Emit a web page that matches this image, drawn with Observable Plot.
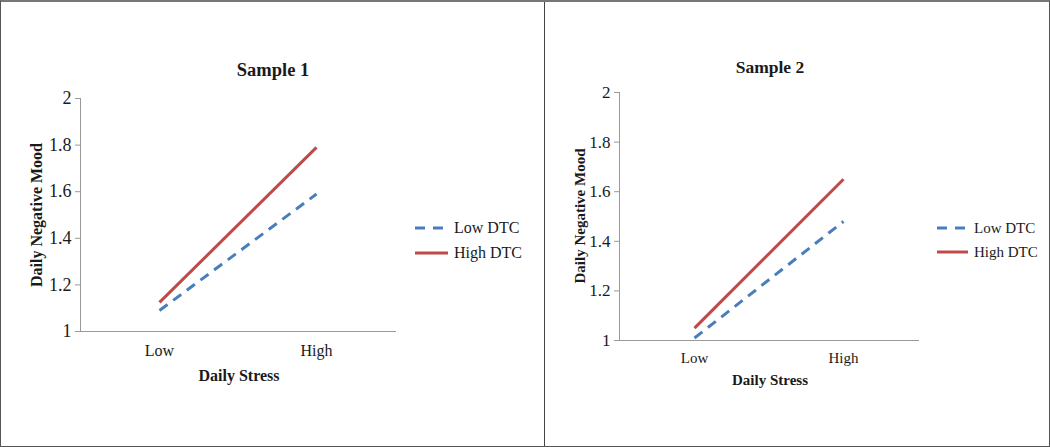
<!DOCTYPE html>
<html>
<head>
<meta charset="utf-8">
<script src="https://cdn.jsdelivr.net/npm/d3@7"></script>
<script src="https://cdn.jsdelivr.net/npm/@observablehq/plot@0.6"></script>
<style>
  html, body { margin: 0; padding: 0; background: #fff; }
  #root { position: relative; width: 1050px; height: 447px; overflow: hidden; font-family: "Liberation Serif", "Times New Roman", serif; color: #1a1a1a; }
  .abs { position: absolute; white-space: nowrap; }
  .title { font-weight: bold; }
  .axtitle { font-weight: bold; }
  .border { position: absolute; left: 0; top: 0; width: 1050px; height: 447px; box-sizing: border-box; border: 1px solid #555; border-top: 2px solid #777; pointer-events: none; }
  .divider { position: absolute; left: 544px; top: 0; width: 1px; height: 447px; background: #444; }
</style>
</head>
<body>
<div id="root"></div>
<script>
// ---- data ----
const categories = ["Low", "High"];
const seriesNames = ["Low DTC", "High DTC"];
const seriesColors = ["#4a7ebb", "#be4b48"];
const seriesDash = ["10,7", null];
const sample1LowDTC = [1.09, 1.59];
const sample1HighDTC = [1.125, 1.79];
const sample2LowDTC = [1.01, 1.48];
const sample2HighDTC = [1.05, 1.65];
const yTicks = [1, 1.2, 1.4, 1.6, 1.8, 2];
const yTickLabels = ["1", "1.2", "1.4", "1.6", "1.8", "2"];
const panelTitles = ["Sample 1", "Sample 2"];
const xTitle = "Daily Stress";
const yTitle = "Daily Negative Mood";

const root = document.getElementById("root");

function addText(txt, cls, css) {
  const d = document.createElement("div");
  d.className = "abs " + (cls || "");
  d.textContent = txt;
  Object.assign(d.style, css);
  root.appendChild(d);
  return d;
}

function panel(cfg) {
  const rows = [];
  seriesNames.forEach((s, si) => {
    cfg.series[si].forEach((v, ci) => rows.push({series: s, cat: categories[ci], value: v}));
  });
  const marks = [
    Plot.axisY({ticks: yTicks, tickFormat: (d) => yTickLabels[yTicks.indexOf(d)] ?? String(d), tickSize: 5, tickPadding: 4, stroke: "#999", fontSize: cfg.yTickFont, label: null}),
    Plot.axisX({tickSize: 0, tickPadding: cfg.xPad, fontSize: cfg.tickFont, label: null}),
    Plot.frame({anchor: "left", stroke: "#999"}),
    Plot.frame({anchor: "bottom", stroke: "#999"})
  ];
  seriesNames.forEach((s, si) => {
    marks.push(Plot.lineY(rows.filter(r => r.series === s), {
      x: "cat", y: "value", stroke: seriesColors[si], strokeWidth: 3,
      strokeDasharray: seriesDash[si] || undefined, strokeLinecap: "butt"
    }));
  });
  const svg = Plot.plot({
    width: cfg.width, height: 447,
    marginLeft: cfg.ml, marginRight: cfg.mr, marginTop: cfg.mt, marginBottom: cfg.mb,
    x: {type: "point", domain: categories, padding: 0.5},
    y: {domain: [1, 2]},
    style: {fontFamily: '"Liberation Serif", "Times New Roman", serif', color: "#1a1a1a", background: "transparent", overflow: "visible"},
    marks
  });
  svg.style.position = "absolute";
  svg.style.left = cfg.left + "px";
  svg.style.top = "0px";
  root.appendChild(svg);

  addText(cfg.title, "title", {left: (cfg.left + cfg.titleX) + "px", top: cfg.titleY + "px", fontSize: cfg.titleFont + "px", transform: "translate(-50%,-50%)"});
  addText(xTitle, "axtitle", {left: (cfg.left + cfg.xTitleX) + "px", top: cfg.xTitleY + "px", fontSize: cfg.axFont + "px", transform: "translate(-50%,-50%)"});
  addText(yTitle, "axtitle", {left: (cfg.left + cfg.yTitleX) + "px", top: cfg.yTitleY + "px", fontSize: cfg.axFont + "px", transform: "translate(-50%,-50%) rotate(-90deg)"});
  seriesNames.forEach((s, si) => {
    const y = cfg.legY[si];
    const ns = "http://www.w3.org/2000/svg";
    const sw = document.createElementNS(ns, "svg");
    sw.setAttribute("width", cfg.legW);
    sw.setAttribute("height", 10);
    sw.style.position = "absolute";
    sw.style.left = (cfg.left + cfg.legX) + "px";
    sw.style.top = (y - 5) + "px";
    const ln = document.createElementNS(ns, "line");
    ln.setAttribute("x1", 0); ln.setAttribute("x2", cfg.legW);
    ln.setAttribute("y1", 5); ln.setAttribute("y2", 5);
    ln.setAttribute("stroke", seriesColors[si]);
    ln.setAttribute("stroke-width", 3);
    if (seriesDash[si]) ln.setAttribute("stroke-dasharray", "10,8");
    sw.appendChild(ln);
    root.appendChild(sw);
    addText(s, "", {left: (cfg.left + cfg.legX + cfg.legW + 6) + "px", top: y + "px", fontSize: cfg.legFont + "px", transform: "translateY(-50%)"});
  });
}

panel({
  left: 0, width: 544, ml: 80, mr: 149, mt: 98, mb: 116,
  series: [sample1LowDTC, sample1HighDTC], title: panelTitles[0],
  tickFont: 16, yTickFont: 18, xPad: 13, titleFont: 18.5, axFont: 16, legFont: 16,
  titleX: 273, titleY: 70, xTitleX: 239, xTitleY: 376, yTitleX: 37, yTitleY: 215,
  legX: 415, legW: 33, legY: [228, 253]
});
panel({
  left: 545, width: 505, ml: 74, mr: 132, mt: 92, mb: 107,
  series: [sample2LowDTC, sample2HighDTC], title: panelTitles[1],
  tickFont: 15, yTickFont: 17, xPad: 12, titleFont: 17.5, axFont: 15, legFont: 15,
  titleX: 225, titleY: 67, xTitleX: 225, xTitleY: 380, yTitleX: 35, yTitleY: 216,
  legX: 392, legW: 31, legY: [228, 252]
});

const div = document.createElement("div"); div.className = "divider"; root.appendChild(div);
const b = document.createElement("div"); b.className = "border"; root.appendChild(b);
</script>
</body>
</html>
